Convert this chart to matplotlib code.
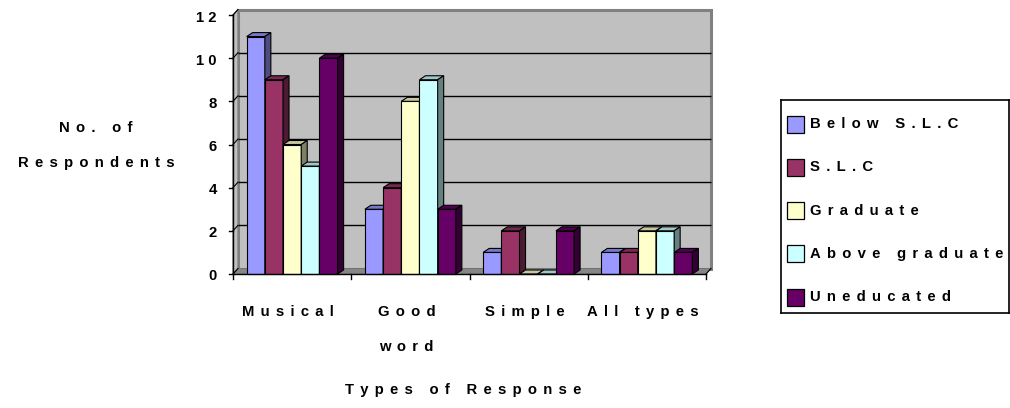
import matplotlib
matplotlib.use("Agg")
import matplotlib.pyplot as plt
from matplotlib.patches import Polygon, Rectangle
from matplotlib.colors import to_rgb

# ---- data -------------------------------------------------------------
categories = ["Musical", "Good\nword", "Simple", "All types"]
series = ["Below S.L.C", "S.L.C", "Graduate", "Above graduate", "Uneducated"]
below_slc = [11, 3, 1, 1]
slc = [9, 4, 2, 1]
graduate = [6, 8, 0, 2]
above_graduate = [5, 9, 0, 2]
uneducated = [10, 3, 2, 1]
values = [below_slc, slc, graduate, above_graduate, uneducated]
y_ticks = [0, 2, 4, 6, 8, 10, 12]
colors = ["#9999FF", "#993366", "#FFFFCC", "#CCFFFF", "#660066"]

x_title = "Types of Response"
y_title = "No. of\nRespondents"

# ---- look -------------------------------------------------------------
FONT = ["Liberation Sans", "DejaVu Sans"]
FS = 10.7
W, H = 1010, 408


def spaced(text):
    """Letter-spaced text (narrow spaces between characters)."""
    return "\u2004\u200a".join(text)


def shade(color, k):
    r, g, b = to_rgb(color)
    return (r * k, g * k, b * k)


plt.rcParams["font.family"] = FONT
plt.rcParams["font.weight"] = "bold"

fig = plt.figure(figsize=(W / 100, H / 100), dpi=100)
fig.patch.set_facecolor("white")

# front plane of the plot: x 233..706 px, y(0)=274 px, y(12)=15 px
left_px, right_px, base_px, top_px = 233, 706, 274, 15
ax = fig.add_axes([left_px / W, 1 - base_px / H,
                   (right_px - left_px) / W, (base_px - top_px) / H])
n_cat = len(categories)
ymax = y_ticks[-1]
ax.set_xlim(0, n_cat)
ax.set_ylim(0, ymax)
ax.axis("off")

ux = n_cat / (right_px - left_px)      # data units per pixel (x)
uy = ymax / (base_px - top_px)         # data units per pixel (y)

# depth of walls / floor and of the bars
WX, WY = 5 * ux, 5.5 * uy
BX, BY = 6 * ux, 4 * uy

wall_grey = "#C0C0C0"

# back wall
ax.add_patch(Polygon([(WX, WY), (n_cat + WX, WY), (n_cat + WX, ymax + WY),
                      (WX, ymax + WY)], closed=True, facecolor=wall_grey,
                     edgecolor="#808080", lw=2.2, zorder=1, clip_on=False))
# side wall
ax.add_patch(Polygon([(0, 0), (WX, WY), (WX, ymax + WY), (0, ymax)],
                     closed=True, facecolor=wall_grey, edgecolor="#808080",
                     lw=1.0, zorder=1, clip_on=False))
# floor
ax.add_patch(Polygon([(0, 0), (n_cat, 0), (n_cat + WX, WY), (WX, WY)],
                     closed=True, facecolor="#868686", edgecolor="#707070",
                     lw=0.6, zorder=2, clip_on=False))

# gridlines on the back wall and across the side wall
for v in y_ticks[1:-1]:
    ax.plot([WX, n_cat + WX], [v + WY, v + WY], color="black", lw=1.0,
            zorder=3, clip_on=False, solid_capstyle="butt")
for v in y_ticks:
    ax.plot([0, WX], [v, v + WY], color="black", lw=0.8, zorder=3,
            clip_on=False)

# bars: front face via ax.bar, depth faces as polygons
n_ser = len(series)
bw = 1 / (n_ser + 1.5)
for j, (name, vals, col) in enumerate(zip(series, values, colors)):
    xs = [i + 0.5 + (j - (n_ser - 1) / 2) * bw for i in range(n_cat)]
    z = 10 + j
    ax.bar(xs, vals, width=bw, color=col, edgecolor="black", lw=0.8,
           zorder=z, clip_on=False)
    for x, v in zip(xs, vals):
        x0, x1 = x - bw / 2, x + bw / 2
        ax.add_patch(Polygon([(x0, v), (x1, v), (x1 + BX, v + BY),
                              (x0 + BX, v + BY)], closed=True,
                             facecolor=shade(col, 0.78), edgecolor="black",
                             lw=0.8, zorder=z, clip_on=False))
        ax.add_patch(Polygon([(x1, 0), (x1 + BX, BY), (x1 + BX, v + BY),
                              (x1, v)], closed=True,
                             facecolor=shade(col, 0.5), edgecolor="black",
                             lw=0.8, zorder=z, clip_on=False))

# axis lines and ticks
ax.plot([0, 0], [0, ymax], color="black", lw=1.0, zorder=30, clip_on=False)
ax.plot([0, n_cat], [0, 0], color="black", lw=1.0, zorder=30, clip_on=False)
ax.plot([n_cat, n_cat + WX], [0, WY], color="black", lw=0.8, zorder=30,
        clip_on=False)
for v in y_ticks:
    ax.plot([-4 * ux, 0], [v, v], color="black", lw=1.0, zorder=30,
            clip_on=False)
    ax.text(-16 * ux, v - 2.5 * uy, " ".join(str(v)), ha="right",
            va="center", fontsize=FS, fontweight="bold", zorder=30)
for i in range(n_cat + 1):
    ax.plot([i, i], [0, -5 * uy], color="black", lw=1.0, zorder=30,
            clip_on=False)

# category labels, one text per line
line_px = 35
for i, cat in enumerate(categories):
    for k, line in enumerate(cat.split("\n")):
        ax.text(i + 0.5 - 4 * ux, -(38 + k * line_px) * uy, spaced(line),
                ha="center", va="center", fontsize=FS, fontweight="bold")

# axis titles
fig.text(463 / W, 1 - 390 / H, spaced(x_title), ha="center", va="center",
         fontsize=FS, fontweight="bold")
for k, line in enumerate(y_title.split("\n")):
    fig.text(96 / W, 1 - (128 + k * line_px) / H, spaced(line), ha="center",
             va="center", fontsize=FS, fontweight="bold")

# legend box (pixel coordinates inside its own axes)
lx0, ly0, lx1, ly1 = 781, 100, 1009, 313
lax = fig.add_axes([lx0 / W, 1 - ly1 / H, (lx1 - lx0) / W, (ly1 - ly0) / H])
lax.set_xlim(0, lx1 - lx0)
lax.set_ylim(ly1 - ly0, 0)
lax.set_xticks([])
lax.set_yticks([])
for s in lax.spines.values():
    s.set_linewidth(1.2)
    s.set_color("black")
row0, row_step = 24, 43.3
for j, (name, col) in enumerate(zip(series, colors)):
    yc = row0 + j * row_step
    lax.add_patch(Rectangle((6, yc - 8.5), 17, 17, facecolor=col,
                            edgecolor="black", lw=0.9))
    lax.text(29, yc, spaced(name), ha="left", va="center", fontsize=FS,
             fontweight="bold", clip_on=False)

fig.savefig("out.png", dpi=100)
